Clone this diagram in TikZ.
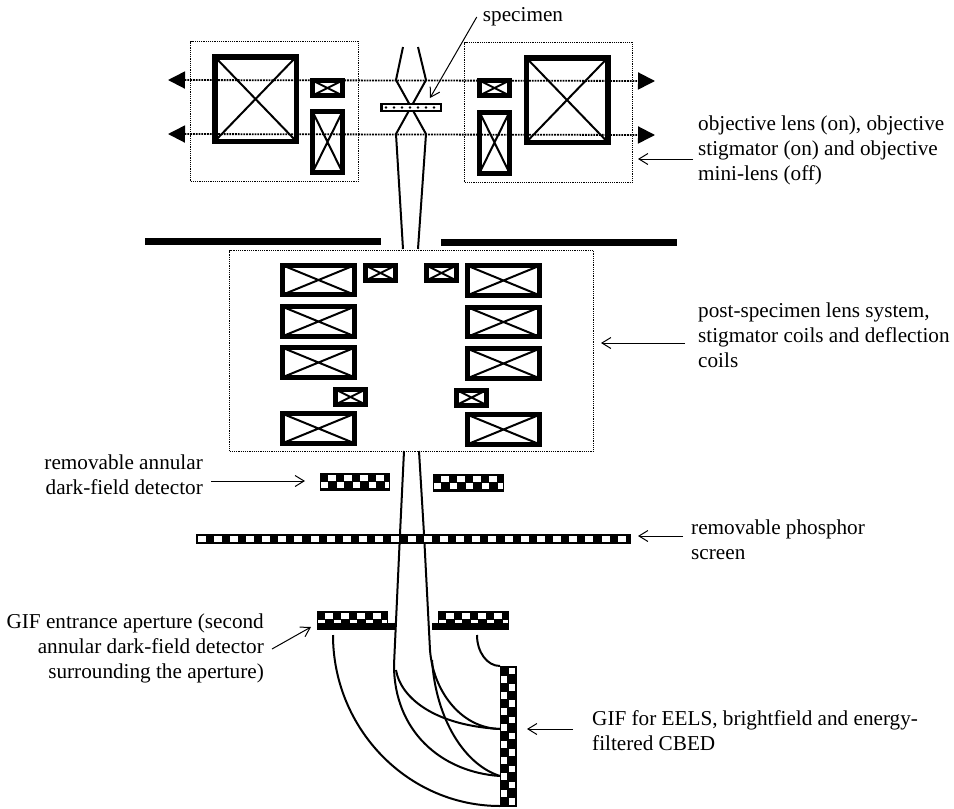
\documentclass[tikz,border=0pt]{standalone}
\usepackage{fontspec}
\setmainfont{Liberation Serif}
\usepackage{tikz}
\usetikzlibrary{arrows.meta, positioning}
\newcommand{\checker}[5]{% name, left, top, width, height of lower white row
  \node[plate, anchor=north west, minimum width=#4, minimum height=#5+11.5] (#1) at (#2,#3) {};
  \foreach \i in {0,...,3} {
    \fill[white] (#2+8.3+16*\i,#3+1.7) rectangle ++(8,6.3);
    \fill[white] (#2+0.7+16*\i,#3+8.7) rectangle ++(7.6,#5);
  }
  \fill[white] (#2+64.7,#3+8.7) rectangle ++(#4-66,#5);
}
\tikzset{
  coil/.style={rectangle, draw=black, fill=white, inner sep=0pt, line width=5pt,
    path picture={\draw[line width=2pt] (path picture bounding box.north west) -- (path picture bounding box.south east)
      (path picture bounding box.south west) -- (path picture bounding box.north east);}},
  bigcoil/.style={coil, line width=5.5pt, minimum width=81.5, minimum height=84.5},
  tallcoil/.style={coil, minimum width=30, minimum height=61},
  widecoil/.style={coil, minimum width=72, minimum height=29.5},
  smallcoil/.style={coil, minimum width=30, minimum height=15},
  region/.style={rectangle, draw=black, densely dotted, line width=1.2pt, inner sep=0pt, anchor=north west},
  plate/.style={rectangle, fill=black, inner sep=0pt, outer sep=0pt},
  lab/.style={inner sep=0pt, align=left, anchor=west, font=\fontsize{21.2}{25}\selectfont},
  labr/.style={lab, align=right, anchor=east},
  ptr/.style={-{Straight Barb[length=9pt,width=11pt]}, line width=1pt},
  beam/.style={line width=2pt},
  field/.style={{Triangle[length=17pt,width=17pt]}-{Triangle[length=17pt,width=17pt]}, densely dotted, line width=1.8pt},
}
\begin{document}
\begin{tikzpicture}[x=1pt,y=-1pt]
\useasboundingbox (0,0) rectangle (954,809);
% objective lens
\node[region, minimum width=168, minimum height=140] (objl) at (190,41) {};
\node[region, minimum width=168, minimum height=140] (objr) at (464,42) {};
\node[bigcoil] (lensl) at (255.5,99) {};
\node[bigcoil] (lensr) at (567,100) {};
\node[smallcoil] (stigl) at (327.5,88) {};
\node[smallcoil] (stigr) at (494.5,88) {};
\node[tallcoil] (minil) at (327.5,142) {};
\node[tallcoil] (minir) at (494.5,142.5) {};
\coordinate (fl1) at (168,80);
\coordinate (fr1) at (655,81);
\coordinate (fl2) at (168,134);
\coordinate (fr2) at (655,135);
\draw[field] (fl1) -- (fr1);
\draw[field] (fl2) -- (fr2);
% beam above and below the specimen
\draw[beam] (403,47) -- (396,80) -- (426,134) -- (418,249);
\draw[beam] (418,47) -- (426,80) -- (396,134) -- (403,249);
\node[rectangle, draw=black, fill=white, line width=2.5pt, inner sep=0pt, minimum width=59.5, minimum height=7] (spec) at (411,107.5) {};
\foreach \i in {0,...,6} \fill (386+8*\i,107.5) circle (1.3);
\node[plate, anchor=north west, minimum width=236, minimum height=7] (platel) at (145,238) {};
\node[plate, anchor=north west, minimum width=236, minimum height=7] (plater) at (441,239) {};
% post-specimen lenses
\node[region, minimum width=364, minimum height=201] (post) at (229,250) {};
\node[widecoil] (pl1) at (318.5,280) {};
\node[widecoil] (pl2) at (318.5,321.5) {};
\node[widecoil] (pl3) at (318.5,362.5) {};
\node[widecoil] (pl4) at (318.5,428.5) {};
\node[widecoil] (pr1) at (503.5,280.5) {};
\node[widecoil] (pr2) at (503.5,322) {};
\node[widecoil] (pr3) at (503.5,363.5) {};
\node[widecoil] (pr4) at (503.5,429.5) {};
\node[smallcoil] (dl1) at (380.5,273) {};
\node[smallcoil] (dr1) at (441.5,273) {};
\node[smallcoil] (dl2) at (350.5,397) {};
\node[smallcoil] (dr2) at (471.5,397.5) {};
% beam below the lenses
\draw[beam] (404,451) -- (400,534) -- (394,665);
\draw[beam] (419,451) -- (424,534) -- (430,650);
\draw[beam] (396,670) .. controls (400,695) and (430,725) .. (500,729);
\draw[beam] (394,665) .. controls (394,730) and (440,772) .. (500,776);
\draw[beam] (430,650) .. controls (433,690) and (460,728) .. (500,729);
\draw[beam] (432,660) .. controls (436,720) and (465,765) .. (500,776);
\draw[beam] (333,635) .. controls (333,729) and (408,806) .. (500,806);
\draw[beam] (477,635) .. controls (477,652) and (487,666) .. (500,666);
% detectors
\checker{adfl}{320}{473}{70}{6.5}
\checker{adfr}{433}{474}{71}{6.5}
\node[plate, anchor=north west, minimum width=435, minimum height=10] (screen) at (196,534) {};
\foreach \i in {0,...,26} \fill[white] (197.5+16.16*\i,535.5) rectangle ++(8,6);
\checker{apl}{317}{611}{71}{3}
\checker{apr}{438}{611}{71}{3}
\node[plate, anchor=north west, minimum width=78, minimum height=7] (barl) at (317,623) {};
\node[plate, anchor=north west, minimum width=77, minimum height=7] (barr) at (432,623) {};
\node[plate, anchor=north west, minimum width=17, minimum height=141] (gif) at (500,666) {};
\foreach \i in {0,...,8} \fill[white] (509,667.7+16.3*\i) rectangle ++(6,6.5);
\foreach \i in {0,...,7} \fill[white] (501.3,675.5+16.3*\i) rectangle ++(6,7);
% labels
\node[lab, anchor=center] (speclab) at (523,17) {specimen};
\node[lab] (objlab) at (698,150) {objective lens (on), objective\\stigmator (on) and objective\\mini-lens (off)};
\node[lab] (postlab) at (698,335) {post-specimen lens system,\\stigmator coils and deflection\\coils};
\node[labr] (adflab) at (203,475) {removable annular\\dark-field detector};
\node[lab] (scrlab) at (691,539.5) {removable phosphor\\screen};
\node[labr] (aplab) at (264,648) {GIF entrance aperture (second\\annular dark-field detector\\surrounding the aperture)};
\node[lab] (giflab) at (592,731) {GIF for EELS, brightfield and energy-\\filtered CBED};
\coordinate (spectip) at (430,98);
\coordinate (objtip) at (638,159);
\coordinate (posttip) at (601,343);
\coordinate (adftip) at (305,481);
\coordinate (scrtip) at (638,536);
\coordinate (aptip) at (311,627);
\coordinate (giftip) at (527,729);
\draw[ptr] ([xshift=-6]speclab.west) -- (spectip);
\draw[ptr] ([shift={(-5,9)}]objlab.west) -- (objtip);
\draw[ptr] ([shift={(-13,8)}]postlab.west) -- (posttip);
\draw[ptr] ([shift={(8,6)}]adflab.east) -- (adftip);
\draw[ptr] ([shift={(-8,-3.5)}]scrlab.west) -- (scrtip);
\draw[ptr] ([shift={(8,1)}]aplab.east) -- (aptip);
\draw[ptr] ([shift={(-19,-2)}]giflab.west) -- (giftip);
\end{tikzpicture}
\end{document}
